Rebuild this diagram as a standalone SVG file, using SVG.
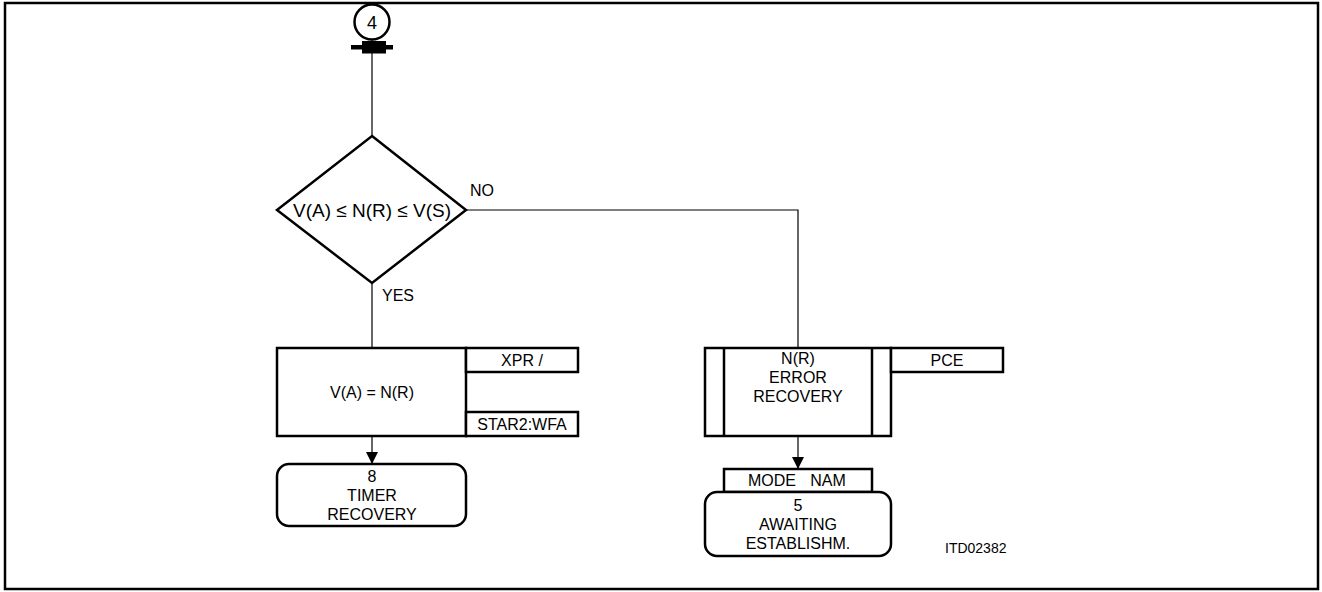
<svg xmlns="http://www.w3.org/2000/svg" width="1322" height="592" viewBox="0 0 1322 592">
<style>
.t{font-family:"Liberation Sans",Arial,sans-serif;font-size:16px;fill:#000}
.c{text-anchor:middle}
.b{fill:#fff;stroke:#000;stroke-width:2.5}
.l{fill:none;stroke:#000;stroke-width:1.2}
</style>
<defs>
<marker id="ah" markerWidth="14" markerHeight="14" refX="12" refY="6" orient="auto" markerUnits="userSpaceOnUse">
<path d="M0,0 L12,6 L0,12 Z" fill="#000"/>
</marker>
</defs>
<rect width="1322" height="592" fill="#fff"/>
<rect x="5" y="3" width="1313" height="586" fill="none" stroke="#000" stroke-width="2.5"/>
<g id="connectors">
<line class="l" x1="372" y1="40" x2="372" y2="136"/>
<polyline class="l" points="466,210 798,210 798,348"/>
<line class="l" x1="372" y1="283" x2="372" y2="348"/>
<line class="l" x1="372" y1="436" x2="372" y2="464" marker-end="url(#ah)"/>
<line class="l" x1="798" y1="436" x2="798" y2="469" marker-end="url(#ah)"/>
<text class="t" x="470" y="196">NO</text>
<text class="t" x="382" y="301">YES</text>
</g>
<g id="start">
<circle cx="372" cy="22" r="17.5" fill="#fff" stroke="#000" stroke-width="2.5"/>
<text class="t c" x="372" y="28.5" style="font-size:18px">4</text>
<rect x="362" y="41" width="24" height="4.5" fill="#000"/>
<rect x="351" y="45" width="42" height="4.5" fill="#000"/>
<rect x="362" y="49" width="24" height="4.5" fill="#000"/>
</g>
<g id="decision">
<polygon class="b" points="372,136 466,210 372,283 277,210"/>
<text class="t c" x="372" y="217" style="font-size:19px">V(A) ≤ N(R) ≤ V(S)</text>
</g>
<g id="assign">
<rect class="b" x="277" y="348" width="189" height="88"/>
<text class="t c" x="372" y="398">V(A) = N(R)</text>
<rect class="b" x="466" y="348" width="112" height="24"/>
<text class="t c" x="522" y="366">XPR /</text>
<rect class="b" x="466" y="412" width="112" height="24"/>
<text class="t c" x="522" y="430">STAR2:WFA</text>
</g>
<g id="timer">
<rect class="b" x="277" y="464" width="189" height="62" rx="12"/>
<text class="t c" x="372" y="482">8</text>
<text class="t c" x="372" y="501">TIMER</text>
<text class="t c" x="372" y="520">RECOVERY</text>
</g>
<g id="error">
<rect class="b" x="705" y="348" width="186" height="88"/>
<line class="b" x1="724" y1="348" x2="724" y2="436"/>
<line class="b" x1="872" y1="348" x2="872" y2="436"/>
<text class="t c" x="798" y="364">N(R)</text>
<text class="t c" x="798" y="383">ERROR</text>
<text class="t c" x="798" y="402">RECOVERY</text>
<rect class="b" x="891" y="348" width="112" height="24"/>
<text class="t c" x="947" y="366">PCE</text>
</g>
<g id="awaiting">
<rect class="b" x="724" y="469" width="148" height="23"/>
<text class="t c" x="772" y="486">MODE</text>
<text class="t c" x="828" y="486">NAM</text>
<rect class="b" x="705" y="492" width="186" height="64" rx="12"/>
<text class="t c" x="798" y="511">5</text>
<text class="t c" x="798" y="530">AWAITING</text>
<text class="t c" x="798" y="549">ESTABLISHM.</text>
</g>
<text class="t" x="945" y="553" style="font-size:14px">ITD02382</text>
</svg>
